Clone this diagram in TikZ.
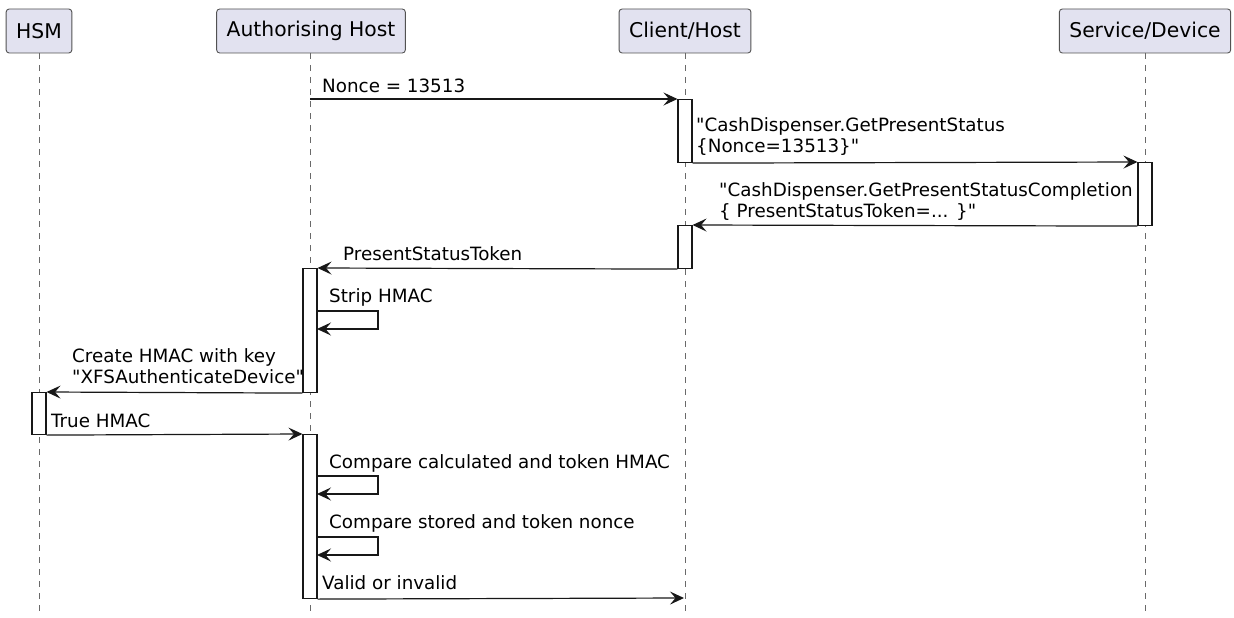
\documentclass[tikz,border=0pt]{standalone}
\usepackage{fontspec}
\setmainfont{DejaVu Sans}
\usetikzlibrary{arrows.meta}
\definecolor{partfill}{HTML}{E2E2F0}
\definecolor{linecol}{HTML}{181818}

\begin{document}
\begin{tikzpicture}[
        x=1pt, y=-1pt, % 1pt = 1px, ось y вниз
        part/.style={draw=linecol!75, fill=partfill, rounded corners=3pt, line width=0.9pt,
            minimum height=44pt, inner xsep=10pt, font=\fontsize{20.3}{24}\selectfont}, % участники
        life/.style={draw=linecol!65, line width=0.8pt, dash pattern=on 6pt off 6pt}, % линии жизни
        act/.style={draw=linecol, fill=white, line width=1.1pt, minimum width=14pt,
            inner sep=0pt, anchor=north}, % активации
        msg/.style={draw=linecol, line width=1.2pt, -{Stealth[length=14pt, width=13pt, inset=5.5pt]}},
        txt/.style={anchor=south west, inner sep=0pt, align=left, text depth=0pt,
            font=\fontsize{18.3}{21.5}\selectfont}, % подписи сообщений
    ]
    \useasboundingbox (0,0) rectangle (1234,618);

    % участники
    \node[part] (hsm) at (39,31) {HSM};
    \node[part] (auth) at (311,31) {Authorising Host};
    \node[part] (client) at (685,31) {Client/Host};
    \node[part] (service) at (1145,31) {Service/Device};

    % линии жизни
    \coordinate (hsmEnd) at (39,616);
    \coordinate (authEnd) at (310,616);
    \coordinate (clientEnd) at (685,616);
    \coordinate (serviceEnd) at (1145,616);
    \draw[life] (39,53) -- (hsmEnd);
    \draw[life] (310,53) -- (authEnd);
    \draw[life] (685,53) -- (clientEnd);
    \draw[life] (1145,53) -- (serviceEnd);

    % активации
    \node[act, minimum height=63pt] (actC1) at (685,99) {};
    \node[act, minimum height=63pt] (actS) at (1145,162) {};
    \node[act, minimum height=43pt] (actC2) at (685,225) {};
    \node[act, minimum height=124pt] (actA1) at (310,268) {};
    \node[act, minimum height=42pt] (actH) at (39,392) {};
    \node[act, minimum height=164pt] (actA2) at (310,434) {};

    % сообщения
    \coordinate (m1) at (310,99);
    \draw[msg] (m1) -- (actC1.north west);
    \node[txt] (t1) at (322,93) {Nonce = 13513};

    \draw[msg] (actC1.south east) -- (actS.north west);
    \node[txt] (t2) at (696,153) {\textquotedbl CashDispenser.GetPresentStatus\\\{Nonce=13513\}\textquotedbl};

    \draw[msg] (actS.south west) -- (actC2.north east);
    \node[txt] (t3) at (719,218) {\textquotedbl CashDispenser.GetPresentStatusCompletion\\\{ PresentStatusToken=... \}\textquotedbl};

    \draw[msg] (actC2.south west) -- (actA1.north east);
    \node[txt] (t4) at (343,261) {PresentStatusToken};

    \coordinate (s1a) at (317,311);
    \coordinate (s1b) at (317,329);
    \draw[msg] (s1a) -- ++(61,0) |- (s1b);
    \node[txt] (t5) at (329,303) {Strip HMAC};

    \draw[msg] (actA1.south west) -- (actH.north east);
    \node[txt] (t6) at (72,384) {Create HMAC with key\\\textquotedbl XFSAuthenticateDevice\textquotedbl};

    \draw[msg] (actH.south east) -- (actA2.north west);
    \node[txt] (t7) at (51,428) {True HMAC};

    \coordinate (s2a) at (317,476);
    \coordinate (s2b) at (317,494);
    \draw[msg] (s2a) -- ++(61,0) |- (s2b);
    \node[txt] (t8) at (329,469) {Compare calculated and token HMAC};

    \coordinate (s3a) at (317,537);
    \coordinate (s3b) at (317,555);
    \draw[msg] (s3a) -- ++(61,0) |- (s3b);
    \node[txt] (t9) at (329,529) {Compare stored and token nonce};

    \coordinate (m10) at (684,598);
    \draw[msg] (actA2.south east) -- (m10);
    \node[txt] (t10) at (322,590) {Valid or invalid};
\end{tikzpicture}
\end{document}
